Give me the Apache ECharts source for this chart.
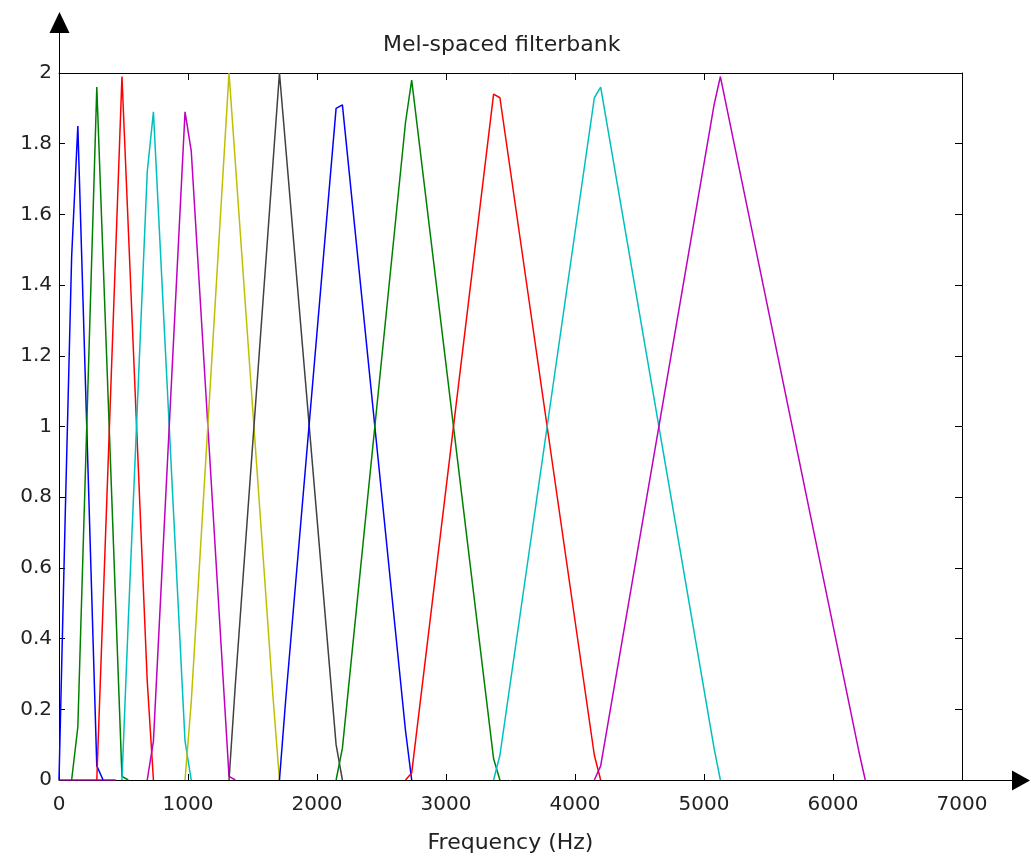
<!DOCTYPE html>
<html>
<head>
<meta charset="utf-8">
<title>Mel-spaced filterbank</title>
<script src="https://cdn.jsdelivr.net/npm/echarts@6/dist/echarts.min.js"></script>
<style>
  html, body { margin: 0; padding: 0; background: #fff; }
  #main { width: 1031px; height: 859px; }
</style>
</head>
<body>
<div id="main"></div>
<script>
// filter outlines: [frequency (Hz), weight]
var filter1 = [[0, 0], [49, 0.76], [98, 1.48], [146, 1.85], [293, 0.04], [342, 0]];
var filter2 = [[98, 0], [146, 0.15], [293, 1.96], [488, 0.01], [537, 0]];
var filter3 = [[293, 0], [342, 0.50], [488, 1.99], [684, 0.28], [732, 0]];
var filter4 = [[488, 0], [537, 0.45], [684, 1.72], [732, 1.89], [977, 0.11], [1025, 0]];
var filter5 = [[684, 0], [732, 0.11], [977, 1.89], [1025, 1.78], [1318, 0.01], [1367, 0]];
var filter6 = [[977, 0], [1025, 0.22], [1318, 2.00], [1660, 0.23], [1709, 0]];
var filter7 = [[1318, 0], [1367, 0.27], [1709, 2.00], [2148, 0.10], [2197, 0]];
var filter8 = [[1709, 0], [1758, 0.23], [2148, 1.90], [2197, 1.91], [2686, 0.14], [2734, 0]];
var filter9 = [[2148, 0], [2197, 0.09], [2686, 1.86], [2734, 1.98], [3369, 0.06], [3418, 0]];
var filter10 = [[2686, 0], [2734, 0.02], [3369, 1.94], [3418, 1.93], [4150, 0.07], [4199, 0]];
var filter11 = [[3369, 0], [3418, 0.07], [4150, 1.93], [4199, 1.96], [5078, 0.09], [5127, 0]];
var filter12 = [[4150, 0], [4199, 0.04], [5078, 1.91], [5127, 1.99], [6201, 0.08], [6250, 0]];
// little magenta stub lying on the x axis near 0 Hz
var baseStub = [[0, 0], [440, 0]];

var filters = [filter1, filter2, filter3, filter4, filter5, filter6,
               filter7, filter8, filter9, filter10, filter11, filter12];
// matlab's default line order
var colors = ['#0000ff', '#008000', '#ff0000', '#00bfbf', '#bf00bf', '#bfbf00', '#404040'];

var xTicks = [0, 1000, 2000, 3000, 4000, 5000, 6000, 7000];
var yTicks = [0, 0.2, 0.4, 0.6, 0.8, 1, 1.2, 1.4, 1.6, 1.8, 2];

var font = 'DejaVu Sans';
var chart = echarts.init(document.getElementById('main'));

var series = [];
series.push({
  type: 'line', data: baseStub, showSymbol: false, silent: true,
  lineStyle: { color: '#bf00bf', width: 1.5 }
});
for (var i = 0; i < filters.length; i++) {
  series.push({
    name: 'filter ' + (i + 1),
    type: 'line',
    data: filters[i],
    showSymbol: false,
    lineStyle: { color: colors[i % colors.length], width: 1.5 }
  });
}

var axisLine = { show: true, onZero: false, lineStyle: { color: '#000', width: 1 } };
var plain = function (v) { return String(v); };

var option = {
  animation: false,
  backgroundColor: '#fff',
  title: {
    text: 'Mel-spaced filterbank',
    left: 378, top: 29,
    textStyle: { fontFamily: font, fontSize: 22, fontWeight: 'normal', color: '#222' }
  },
  grid: { left: 59, right: 69, top: 73, bottom: 76 },
  xAxis: [{
    type: 'value', min: xTicks[0], max: xTicks[xTicks.length - 1], interval: 1000,
    position: 'bottom',
    name: 'Frequency (Hz)', nameLocation: 'middle', nameGap: 52,
    nameTextStyle: { fontFamily: font, fontSize: 22, color: '#222' },
    axisLine: axisLine,
    axisTick: { inside: true, length: 6, lineStyle: { color: '#000' } },
    axisLabel: { fontFamily: font, fontSize: 20, color: '#222', margin: 15, formatter: plain },
    splitLine: { show: false }
  }, {
    type: 'value', min: xTicks[0], max: xTicks[xTicks.length - 1], interval: 1000,
    position: 'top',
    axisLine: axisLine,
    axisTick: { inside: true, length: 7, lineStyle: { color: '#000' } },
    axisLabel: { show: false },
    splitLine: { show: false }
  }],
  yAxis: [{
    type: 'value', min: yTicks[0], max: yTicks[yTicks.length - 1], interval: 0.2,
    position: 'left',
    axisLine: axisLine,
    axisTick: { inside: true, length: 6, lineStyle: { color: '#000' } },
    axisLabel: { fontFamily: font, fontSize: 20, color: '#222', margin: 7, formatter: plain },
    splitLine: { show: false }
  }, {
    type: 'value', min: yTicks[0], max: yTicks[yTicks.length - 1], interval: 0.2,
    position: 'right',
    axisLine: axisLine,
    axisTick: { inside: true, length: 7, lineStyle: { color: '#000' } },
    axisLabel: { show: false },
    splitLine: { show: false }
  }],
  series: series
};
chart.setOption(option);

// arrow heads sticking out of the axes, placed from the axis scale
var origin = chart.convertToPixel({ gridIndex: 0 }, [0, 0]);
var xEnd = chart.convertToPixel({ gridIndex: 0 }, [7000, 0]);
var yEnd = chart.convertToPixel({ gridIndex: 0 }, [0, 2]);
var ox = Math.round(origin[0]) + 0.5, oy = Math.round(origin[1]) + 0.5;
var xe = Math.round(xEnd[0]), ye = Math.round(yEnd[1]);
chart.setOption({
  graphic: [
    { type: 'line', shape: { x1: xe, y1: oy, x2: xe + 52, y2: oy }, style: { stroke: '#000', lineWidth: 1 } },
    { type: 'polygon', shape: { points: [[xe + 50, oy - 10], [xe + 68, oy], [xe + 50, oy + 10]] }, style: { fill: '#000' } },
    { type: 'line', shape: { x1: ox, y1: ye, x2: ox, y2: ye - 42 }, style: { stroke: '#000', lineWidth: 1 } },
    { type: 'polygon', shape: { points: [[ox - 10, ye - 40], [ox, ye - 61], [ox + 10, ye - 40]] }, style: { fill: '#000' } }
  ]
});
</script>
</body>
</html>
